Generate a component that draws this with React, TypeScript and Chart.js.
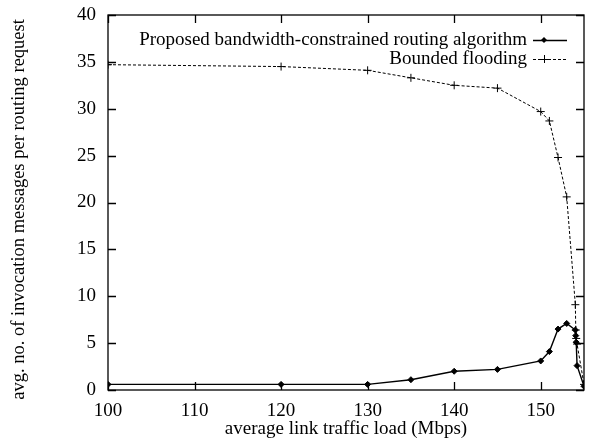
import React, { useEffect, useRef } from "react";
import { Chart, registerables } from "chart.js";

Chart.register(...registerables);

const proposedLabel = "Proposed bandwidth-constrained routing algorithm";
const floodingLabel = "Bounded flooding";
const xTitle = "average link traffic load (Mbps)";
const yTitle = "avg. no. of invocation messages per routing request";

const proposedX = [100, 120, 130, 135, 140, 145, 150, 151, 152, 153, 154, 154.05, 154.1, 154.2, 155];
const proposedY = [0.6, 0.6, 0.6, 1.1, 2.0, 2.2, 3.1, 4.1, 6.5, 7.1, 6.4, 5.8, 5.1, 2.6, 0.4];

const floodingX = [100, 120, 130, 135, 140, 145, 150, 151, 152, 153, 154, 154.05, 154.1, 154.2, 155];
const floodingY = [34.7, 34.5, 34.1, 33.3, 32.5, 32.2, 29.7, 28.7, 24.8, 20.6, 9.1, 6.4, 5.5, 4.9, 0.6];

const xTicks = [100, 110, 120, 130, 140, 150];
const yTicks = [0, 5, 10, 15, 20, 25, 30, 35, 40];

const FONT = "'Liberation Serif', 'Times New Roman', serif";
const FS = 19;

const framePlugin = {
  id: "frame",
  afterDraw(chart: any) {
    const { ctx, chartArea } = chart;
    const { left, right, top, bottom } = chartArea;
    const xs = chart.scales.x;
    const ys = chart.scales.y;
    const tl = 8;
    ctx.save();
    ctx.strokeStyle = "#000";
    ctx.lineWidth = 1.3;
    ctx.setLineDash([]);
    ctx.strokeRect(left, top, right - left, bottom - top);
    ctx.beginPath();
    for (const v of xTicks) {
      const px = Math.round(xs.getPixelForValue(v)) + 0.5;
      ctx.moveTo(px, bottom);
      ctx.lineTo(px, bottom - tl);
      ctx.moveTo(px, top);
      ctx.lineTo(px, top + tl);
    }
    for (const v of yTicks) {
      const py = Math.round(ys.getPixelForValue(v)) + 0.5;
      ctx.moveTo(left, py);
      ctx.lineTo(left + tl, py);
      ctx.moveTo(right, py);
      ctx.lineTo(right - tl, py);
    }
    ctx.stroke();

    // legend
    const textRight = 527;
    const sx0 = 533;
    const sx1 = 567;
    const rows = [40, 59];
    ctx.font = `${FS}px ${FONT}`;
    ctx.fillStyle = "#000";
    ctx.textAlign = "right";
    ctx.textBaseline = "middle";
    chart.data.datasets.forEach((ds: any, i: number) => {
      const y = rows[i];
      ctx.fillText(ds.label, textRight, y);
      ctx.beginPath();
      ctx.lineWidth = ds.borderWidth;
      ctx.setLineDash(ds.borderDash || []);
      ctx.moveTo(sx0, y + 0.5);
      ctx.lineTo(sx1, y + 0.5);
      ctx.stroke();
      ctx.setLineDash([]);
      const mx = (sx0 + sx1) / 2 - 6;
      const r = ds.pointRadius;
      if (ds.pointStyle === "rectRot") {
        ctx.beginPath();
        ctx.moveTo(mx, y - r);
        ctx.lineTo(mx + r, y);
        ctx.lineTo(mx, y + r);
        ctx.lineTo(mx - r, y);
        ctx.closePath();
        ctx.fill();
      } else {
        ctx.beginPath();
        ctx.lineWidth = 1;
        ctx.moveTo(mx - r, y + 0.5);
        ctx.lineTo(mx + r, y + 0.5);
        ctx.moveTo(mx + 0.5, y - r);
        ctx.lineTo(mx + 0.5, y + r);
        ctx.stroke();
      }
    });
    ctx.restore();
  },
};

export default function App() {
  const ref = useRef<HTMLCanvasElement | null>(null);

  useEffect(() => {
    document.body.style.margin = "0";
    const canvas = ref.current;
    if (!canvas) return;
    const chart = new Chart(canvas, {
      type: "line",
      data: {
        datasets: [
          {
            label: proposedLabel,
            data: proposedX.map((x, i) => ({ x, y: proposedY[i] })),
            borderColor: "#000",
            backgroundColor: "#000",
            borderWidth: 1.4,
            pointStyle: "rectRot",
            pointRadius: 3,
            pointBackgroundColor: "#000",
            pointBorderColor: "#000",
            pointBorderWidth: 1,
            tension: 0,
          },
          {
            label: floodingLabel,
            data: floodingX.map((x, i) => ({ x, y: floodingY[i] })),
            borderColor: "#000",
            backgroundColor: "#000",
            borderWidth: 1,
            borderDash: [3, 2],
            pointStyle: "cross",
            pointRadius: 4,
            pointBorderColor: "#000",
            pointBorderWidth: 1,
            tension: 0,
          },
        ],
      },
      options: {
        animation: false,
        responsive: false,
        maintainAspectRatio: false,
        layout: { padding: { top: 15, right: 1, left: 0, bottom: 0 } },
        plugins: {
          legend: { display: false },
          tooltip: { enabled: false },
        },
        scales: {
          x: {
            type: "linear",
            min: 100,
            max: 155,
            grid: { display: false },
            border: { display: false },
            afterBuildTicks: (scale: any) => {
              scale.ticks = xTicks.map((v) => ({ value: v }));
            },
            afterFit: (scale: any) => {
              scale.height = 50;
              scale.paddingLeft = 0;
              scale.paddingRight = 0;
            },
            ticks: {
              color: "#000",
              font: { family: FONT, size: FS },
              padding: 2,
              maxRotation: 0,
            },
            title: {
              display: true,
              text: xTitle,
              color: "#000",
              font: { family: FONT, size: FS },
              padding: { top: 0, bottom: 0 },
            },
          },
          y: {
            type: "linear",
            min: 0,
            max: 40,
            grid: { display: false },
            border: { display: false },
            afterBuildTicks: (scale: any) => {
              scale.ticks = yTicks.map((v) => ({ value: v }));
            },
            afterFit: (scale: any) => {
              scale.width = 108;
              scale.paddingTop = 0;
              scale.paddingBottom = 0;
            },
            ticks: {
              color: "#000",
              font: { family: FONT, size: FS },
              padding: 4,
            },
            title: {
              display: true,
              text: yTitle + "   ",
              color: "#000",
              font: { family: FONT, size: 18.5 },
              padding: { top: 8, bottom: 0 },
            },
          },
        },
      },
      plugins: [framePlugin],
    } as any);
    return () => chart.destroy();
  }, []);

  return (
    <div style={{ position: "absolute", left: 0, top: 0, width: 589, height: 440, background: "#fff" }}>
      <canvas ref={ref} width={589} height={440} />
    </div>
  );
}
